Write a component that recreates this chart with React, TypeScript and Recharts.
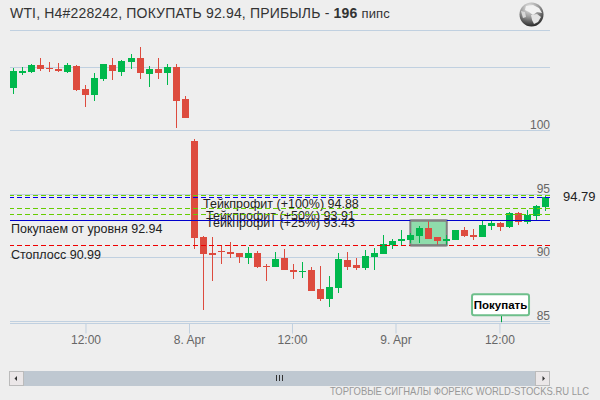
import {
  Bar,
  CartesianGrid,
  ComposedChart,
  ReferenceArea,
  ReferenceDot,
  ReferenceLine,
  XAxis,
  YAxis,
} from "recharts";

// ── Candle values, one per bar ──────────────────────────────────────────
const opens = [
  103.37, 104.55, 104.63, 105.18, 104.95, 104.87, 104.63, 105.1, 103.29, 102.82,
  104.08, 105.18, 104.63, 105.42, 105.73, 104.47, 104.87, 104.55, 105.02, 102.5,
  99.2, 91.64, 90.38, 90.54, 90.46, 90.38, 89.98, 90.38, 89.38, 89.28,
  89.98, 89.04, 88.91, 89.04, 87.54, 86.76, 87.62, 89.83, 89.43, 89.2,
  90.06, 90.3, 91.01, 91.35, 91.4, 91.72, 92.35, 91.64, 91.35, 91.4,
  92.19, 91.8, 91.64, 92.5, 92.74, 92.43, 93.53, 92.82, 93.29, 94.0,
];
const highs = [
  104.97, 105.05, 105.26, 105.73, 105.42, 105.34, 105.34, 105.18, 103.61, 104.55,
  105.26, 105.73, 105.58, 106.05, 106.6, 105.1, 105.73, 105.26, 105.26, 102.74,
  99.35, 91.7, 91.64, 91.01, 91.24, 90.38, 90.85, 90.54, 89.51, 90.46,
  90.69, 89.51, 89.67, 89.28, 89.35, 88.57, 90.38, 90.46, 89.98, 90.62,
  90.77, 91.8, 91.48, 92.19, 91.95, 92.5, 92.9, 91.64, 91.8, 92.19,
  92.43, 92.27, 92.9, 92.9, 92.82, 93.61, 93.61, 93.76, 94.16, 94.94,
];
const lows = [
  102.9, 104.4, 104.55, 104.71, 104.63, 104.63, 104.55, 103.13, 101.87, 102.35,
  103.92, 104.0, 104.32, 104.87, 104.08, 103.45, 104.08, 103.61, 100.22, 101.01,
  90.69, 85.89, 88.17, 89.51, 89.98, 89.59, 89.51, 89.2, 88.17, 89.28,
  89.04, 88.33, 88.41, 87.39, 86.6, 86.13, 87.23, 89.04, 89.04, 89.04,
  89.04, 90.3, 90.69, 91.01, 91.17, 91.17, 91.48, 91.01, 91.01, 91.4,
  91.64, 91.4, 91.64, 92.19, 92.11, 92.35, 92.58, 92.66, 92.98, 93.68,
];
const closes = [
  104.71, 104.71, 105.18, 104.87, 104.87, 104.71, 105.18, 103.21, 102.82, 104.16,
  105.26, 104.71, 105.5, 105.73, 104.55, 104.87, 104.55, 105.02, 102.35, 101.01,
  91.56, 90.3, 90.22, 90.48, 90.3, 90.06, 90.38, 89.28, 89.33, 89.91,
  89.04, 88.88, 88.96, 87.39, 86.76, 87.7, 89.91, 89.28, 89.2, 90.14,
  90.38, 91.09, 91.32, 91.48, 91.8, 92.35, 91.48, 91.32, 91.48, 92.19,
  91.72, 91.64, 92.58, 92.74, 92.43, 93.53, 92.82, 93.37, 94.08, 94.79,
];

const xTickSpots = [8.06, 19.54, 30.96, 42.44, 53.97];
const xTickLabels = ["12:00", "8. Apr", "12:00", "9. Apr", "12:00"];
const yTickValues = [85, 90, 95, 100, 105];
const yTickLabels = ["85", "90", "95", "100", ""];

const entry = 92.94;
const stopLoss = 90.99;
const takeProfit100 = 94.88;
const takeProfit50 = 93.91;
const takeProfit25 = 93.43;
const lastPrice = 94.79;
const signalBar = 54.09;
const boxStart = 44.03;
const boxEnd = 48.07;

const GREEN = "#00b84c";
const RED = "#dd4b3e";
const GRID = "#c0d0e0";
const LIME = "#66cc00";
const BOX = "#808080";
const FONT = "'Liberation Sans', Arial, sans-serif";

const candles = opens.map((open, i) => ({
  i,
  open,
  high: highs[i],
  low: lows[i],
  close: closes[i],
}));

// ── Candle drawn from the high-low range that the Bar hands over ────────
function Candle(props: any) {
  const { x, y, width, height, payload } = props;
  const { open, high, low, close } = payload;
  const perUnit = height / (high - low);
  const top = Math.round(y + (high - Math.max(open, close)) * perUnit);
  const bottom = Math.round(y + (high - Math.min(open, close)) * perUnit);
  const color = close >= open ? GREEN : RED;
  const mid = Math.round(x + width / 2) + 0.5;
  return (
    <g>
      <line
        x1={mid}
        x2={mid}
        y1={Math.round(y)}
        y2={Math.round(y + height)}
        stroke={color}
        strokeWidth={1}
      />
      <rect
        x={mid - 3.5}
        y={top}
        width={7}
        height={Math.max(bottom - top, 1)}
        fill={color}
      />
    </g>
  );
}

// snaps a horizontal line onto a pixel row so it stays sharp
function CrispLine(props: any) {
  const { x1, x2, y1, color, dash, thick } = props;
  const y = Math.floor(y1) + 0.5;
  return (
    <line
      x1={x1}
      x2={x2}
      y1={y}
      y2={y}
      stroke={color}
      strokeWidth={thick ?? 1}
      strokeDasharray={dash}
    />
  );
}

function SignalFlag(props: any) {
  const { cx, cy } = props;
  const mid = Math.round(cx) + 0.5;
  return (
    <g>
      <line x1={mid} x2={mid} y1={cy - 8} y2={cy} stroke="#00a040" strokeWidth={1} />
      <rect
        x={cx - 29}
        y={cy - 28}
        width={57}
        height={21}
        rx={2}
        fill="#fff"
        stroke="#6ebf8b"
        strokeWidth={2}
      />
      <text
        x={cx - 0.5}
        y={cy - 13.5}
        textAnchor="middle"
        fontFamily={FONT}
        fontSize={11.5}
        fontWeight="bold"
        fill="#000"
      >
        Покупать
      </text>
    </g>
  );
}

function PriceTick(props: any) {
  const { y, payload } = props;
  return (
    <text
      x={550}
      y={y - 1.5}
      textAnchor="end"
      fontFamily={FONT}
      fontSize={12}
      fill="#666"
    >
      {yTickLabels[yTickValues.indexOf(payload.value)]}
    </text>
  );
}

function TimeTick(props: any) {
  const { x, y, payload } = props;
  return (
    <text
      x={x}
      y={y + 8}
      textAnchor="middle"
      fontFamily={FONT}
      fontSize={12}
      fill="#666"
    >
      {xTickLabels[xTickSpots.indexOf(payload.value)]}
    </text>
  );
}

function Globe() {
  return (
    <g>
      <defs>
        <radialGradient id="globe" cx="42%" cy="22%" r="85%">
          <stop offset="0%" stopColor="#f0f0f0" />
          <stop offset="45%" stopColor="#9a9a9a" />
          <stop offset="100%" stopColor="#151515" />
        </radialGradient>
      </defs>
      <circle cx={531.5} cy={14.5} r={12} fill="url(#globe)" />
      <path
        d="M526 6 L533 5 L539 8 L542 13 L537 12 L533 15 L529 12 L525 10 Z"
        fill="#f2f2f2"
      />
      <path
        d="M531 15 L537 14 L541 17 L538 22 L534 24 L532 20 Z"
        fill="#e4e4e4"
      />
      <path d="M521 11 L525 12 L526 17 L523 18 Z" fill="#d8d8d8" />
    </g>
  );
}

const labelText = { fontFamily: FONT, fontSize: 12.5, fill: "#222" };

export default function App() {
  return (
    <div
      style={{
        position: "fixed",
        left: 0,
        top: 0,
        width: 600,
        height: 400,
        background: "#eeeeee",
      }}
    >
      <ComposedChart
        width={600}
        height={400}
        data={candles}
        margin={{ top: 30, right: 49, bottom: 0, left: 10 }}
      >
        <CartesianGrid
          vertical={false}
          horizontal={(p: any) => <CrispLine key={p.y1} {...p} color={GRID} />}
        />
        <XAxis
          dataKey="i"
          type="number"
          domain={[-0.366, 59.52]}
          ticks={xTickSpots}
          interval={0}
          stroke={GRID}
          tickSize={10}
          tick={<TimeTick />}
          height={76.5}
          allowDataOverflow
        />
        <YAxis
          orientation="right"
          domain={[84.83, 107.94]}
          ticks={yTickValues}
          width={1}
          axisLine={false}
          tickLine={false}
          tick={<PriceTick />}
          interval={0}
          allowDataOverflow
        />
        <ReferenceLine y={takeProfit100} shape={<CrispLine color={LIME} dash="5 3" />} />
        <ReferenceLine y={lastPrice} shape={<CrispLine color="#0000ee" dash="5 3" />} />
        <ReferenceLine y={takeProfit50} shape={<CrispLine color={LIME} dash="5 3" />} />
        <ReferenceLine y={takeProfit25} shape={<CrispLine color={LIME} dash="5 3" />} />
        <ReferenceLine y={entry} shape={<CrispLine color="#0000cc" />} />
        <ReferenceLine y={stopLoss} shape={<CrispLine color="#ee0000" dash="5 3" />} />
        <ReferenceArea
          x1={boxStart}
          x2={boxEnd}
          y1={entry}
          y2={stopLoss}
          fill="#00c146"
          fillOpacity={0.4}
          stroke={BOX}
          strokeWidth={2}
        />
        {/* box edges sit above the entry and stop lines */}
        <ReferenceLine
          segment={[
            { x: boxStart, y: entry },
            { x: boxEnd, y: entry },
          ]}
          shape={<CrispLine color={BOX} thick={2} />}
        />
        <ReferenceLine
          segment={[
            { x: boxStart, y: stopLoss },
            { x: boxEnd, y: stopLoss },
          ]}
          shape={<CrispLine color={BOX} thick={2} />}
        />
        <Bar
          dataKey={(d: any) => [d.low, d.high]}
          barSize={7}
          shape={<Candle />}
          isAnimationActive={false}
        />
        <ReferenceDot
          x={signalBar}
          y={84.93}
          shape={<SignalFlag />}
          ifOverflow="visible"
        />

        <text x={203} y={207.5} {...labelText}>
          Тейкпрофит (+100%) 94.88
        </text>
        <text x={206} y={220} {...labelText}>
          Тейкпрофит (+50%) 93.91
        </text>
        <text x={206} y={227} {...labelText}>
          Тейкпрофит (+25%) 93.43
        </text>
        <text x={11} y={232.5} {...labelText}>
          Покупаем от уровня 92.94
        </text>
        <text x={11} y={258.5} {...labelText}>
          Стоплосс 90.99
        </text>
        <text x={563} y={201} fontFamily={FONT} fontSize={13} fill="#222">
          {lastPrice}
        </text>

        <text x={10} y={18} fontFamily={FONT} fontSize={14} letterSpacing={0.17} fill="#333">
          WTI, H4#228242, ПОКУПАТЬ 92.94, ПРИБЫЛЬ -{" "}
          <tspan fontWeight="bold">196</tspan>{" "}
          <tspan fontSize={13}>пипс</tspan>
        </text>
        <Globe />

        {/* scrollbar */}
        <rect x={24} y={371} width={512} height={15} fill="#bfc8d1" />
        <rect x={9.5} y={371.5} width={14} height={14} fill="#ebe7e8" stroke="#bbb" />
        <rect x={535.5} y={371.5} width={14} height={14} fill="#ebe7e8" stroke="#bbb" />
        <path d="M14.5 378.5 L17 376 L17 381 Z" fill="#333" />
        <path d="M545 378.5 L542.5 376 L542.5 381 Z" fill="#333" />
        <path d="M276.5 375 V381 M279.5 375 V381 M282.5 375 V381" stroke="#333" />
        <text
          x={330}
          y={395}
          fontFamily={FONT}
          fontSize={10.5}
          textLength={259}
          lengthAdjust="spacingAndGlyphs"
          fill="#999"
        >
          ТОРГОВЫЕ СИГНАЛЫ ФОРЕКС WORLD-STOCKS.RU LLC
        </text>
      </ComposedChart>
    </div>
  );
}
